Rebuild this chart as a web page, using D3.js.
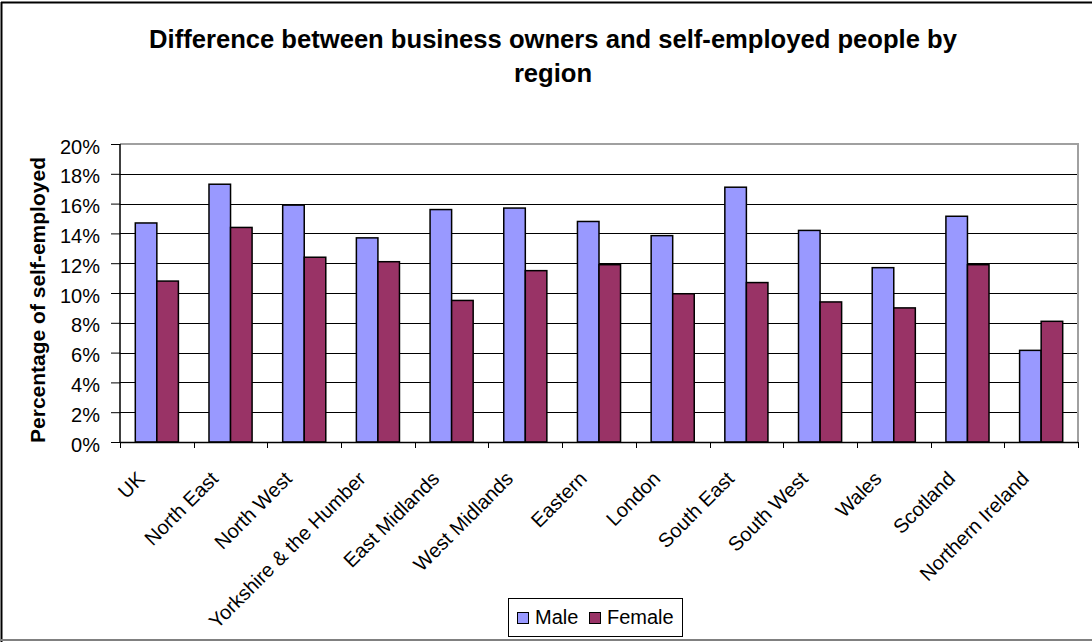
<!DOCTYPE html>
<html>
<head>
<meta charset="utf-8">
<script src="https://cdn.jsdelivr.net/npm/d3@7"></script>
<style>
  html, body { margin: 0; padding: 0; background: #fff; }
  svg { display: block; font-family: Arial, "Liberation Sans", sans-serif; }
</style>
</head>
<body>
<svg id="chart" width="1092" height="642"></svg>
<script>
// Regions, in display order
const regions = ["UK", "North East", "North West", "Yorkshire & the Humber", "East Midlands",
  "West Midlands", "Eastern", "London", "South East", "South West", "Wales", "Scotland",
  "Northern Ireland"];

// Share of self-employed (percent)
const male   = [14.7, 17.3, 15.9, 13.7, 15.6, 15.7, 14.8, 13.85, 17.1, 14.2, 11.7, 15.15, 6.15];
const female = [10.8, 14.4, 12.4, 12.1, 9.5, 11.5, 11.9, 9.95, 10.7, 9.4, 9.0, 11.9, 8.1];

const seriesNames = ["Male", "Female"];
const seriesColors = ["#9999FF", "#993366"];
const yTicks = [0, 2, 4, 6, 8, 10, 12, 14, 16, 18, 20];

const svg = d3.select("#chart");
const W = 1092, H = 642;
const plot = { left: 120, right: 1078, top: 144, bottom: 442 };

// Outer chart frame
svg.append("line").attr("x1", 1.5).attr("y1", 2).attr("x2", 1.5).attr("y2", H).attr("stroke", "#000").attr("stroke-width", 2);
svg.append("line").attr("x1", 1).attr("y1", 2.5).attr("x2", W).attr("y2", 2.5).attr("stroke", "#000").attr("stroke-width", 2);
svg.append("line").attr("x1", 1).attr("y1", 640).attr("x2", W).attr("y2", 640).attr("stroke", "#808080").attr("stroke-width", 2);

// Title
const title = svg.append("text")
  .attr("text-anchor", "middle")
  .attr("font-weight", "bold")
  .attr("font-size", 25.6)
  .attr("fill", "#000");
title.append("tspan").attr("x", 553).attr("y", 48).text("Difference between business owners and self-employed people by");
title.append("tspan").attr("x", 553).attr("y", 82).text("region");

// Scales
const x = d3.scaleBand().domain(regions).range([plot.left, plot.right]).paddingInner(0).paddingOuter(0);
const xs = d3.scaleBand().domain(seriesNames).range([0, x.bandwidth()]).paddingInner(0).paddingOuter(0.71);
const y = d3.scaleLinear().domain([0, 20]).range([plot.bottom, plot.top]);

// Gridlines
svg.append("g")
  .selectAll("line")
  .data(yTicks.filter(t => t > 0 && t < 20))
  .join("line")
  .attr("x1", plot.left).attr("x2", plot.right)
  .attr("y1", d => Math.round(y(d)) + 0.5).attr("y2", d => Math.round(y(d)) + 0.5)
  .attr("stroke", "#000").attr("stroke-width", 1);

// Plot area border (top and right)
svg.append("path")
  .attr("d", `M${plot.left},${plot.top}H${plot.right}V${plot.bottom}`)
  .attr("fill", "none").attr("stroke", "#a0a0a0").attr("stroke-width", 2);

// Bars
const rows = regions.map((r, i) => ({ region: r, values: [male[i], female[i]] }));
svg.append("g")
  .selectAll("g")
  .data(rows)
  .join("g")
  .attr("transform", d => `translate(${x(d.region)},0)`)
  .selectAll("rect")
  .data(d => d.values.map((v, j) => ({ key: seriesNames[j], value: v, color: seriesColors[j] })))
  .join("rect")
  .attr("x", d => xs(d.key))
  .attr("width", xs.bandwidth())
  .attr("y", d => y(d.value))
  .attr("height", d => y(0) - y(d.value))
  .attr("fill", d => d.color)
  .attr("stroke", "#000")
  .attr("stroke-width", 1.5);

// Y axis
const yAxis = d3.axisLeft(y).tickValues(yTicks).tickSize(9).tickPadding(11).tickFormat(d => d + "%");
const yg = svg.append("g").attr("transform", `translate(${plot.left},0)`).call(yAxis);
yg.select(".domain").attr("stroke", "#000").attr("stroke-width", 1.5).attr("d", `M0,${plot.top}V${plot.bottom}`);
yg.selectAll(".tick line").attr("stroke", "#000");
yg.selectAll(".tick text")
  .attr("font-size", 20).attr("dy", "0.45em")
  .attr("fill", "#000").attr("font-family", "Arial, 'Liberation Sans', sans-serif");

// X axis: ticks at category boundaries
const xg = svg.append("g").attr("transform", `translate(0,${plot.bottom})`);
xg.append("line").attr("x1", plot.left).attr("x2", plot.right).attr("y1", 0.5).attr("y2", 0.5).attr("stroke", "#000").attr("stroke-width", 1.5);
xg.selectAll("line.tick")
  .data(d3.range(regions.length + 1))
  .join("line")
  .attr("class", "tick")
  .attr("x1", i => Math.round(plot.left + i * x.step()) + 0.5)
  .attr("x2", i => Math.round(plot.left + i * x.step()) + 0.5)
  .attr("y1", 0).attr("y2", 6)
  .attr("stroke", "#000");
xg.selectAll("text")
  .data(regions)
  .join("text")
  .attr("text-anchor", "end")
  .attr("font-size", 20)
  .attr("fill", "#000")
  .attr("transform", d => `translate(${x(d) + x.bandwidth() / 2 - 11},${38}) rotate(-45)`)
  .text(d => d);

// Y axis title
svg.append("text")
  .attr("transform", `translate(45,${(plot.top + plot.bottom) / 2 + 7}) rotate(-90)`)
  .attr("text-anchor", "middle")
  .attr("font-weight", "bold")
  .attr("font-size", 21)
  .attr("fill", "#000")
  .text("Percentage of self-employed");

// Legend
const legend = svg.append("g");
legend.append("rect").attr("x", 508.5).attr("y", 598.5).attr("width", 174).attr("height", 38)
  .attr("fill", "#fff").attr("stroke", "#000").attr("stroke-width", 1);
const legendX = [517, 589];
seriesNames.forEach((name, i) => {
  legend.append("rect").attr("x", legendX[i] + 0.5).attr("y", 612.5).attr("width", 11).attr("height", 11)
    .attr("fill", seriesColors[i]).attr("stroke", "#000").attr("stroke-width", 1);
  legend.append("text").attr("x", legendX[i] + 18).attr("y", 624).attr("font-size", 20).attr("fill", "#000").text(name);
});
</script>
</body>
</html>
